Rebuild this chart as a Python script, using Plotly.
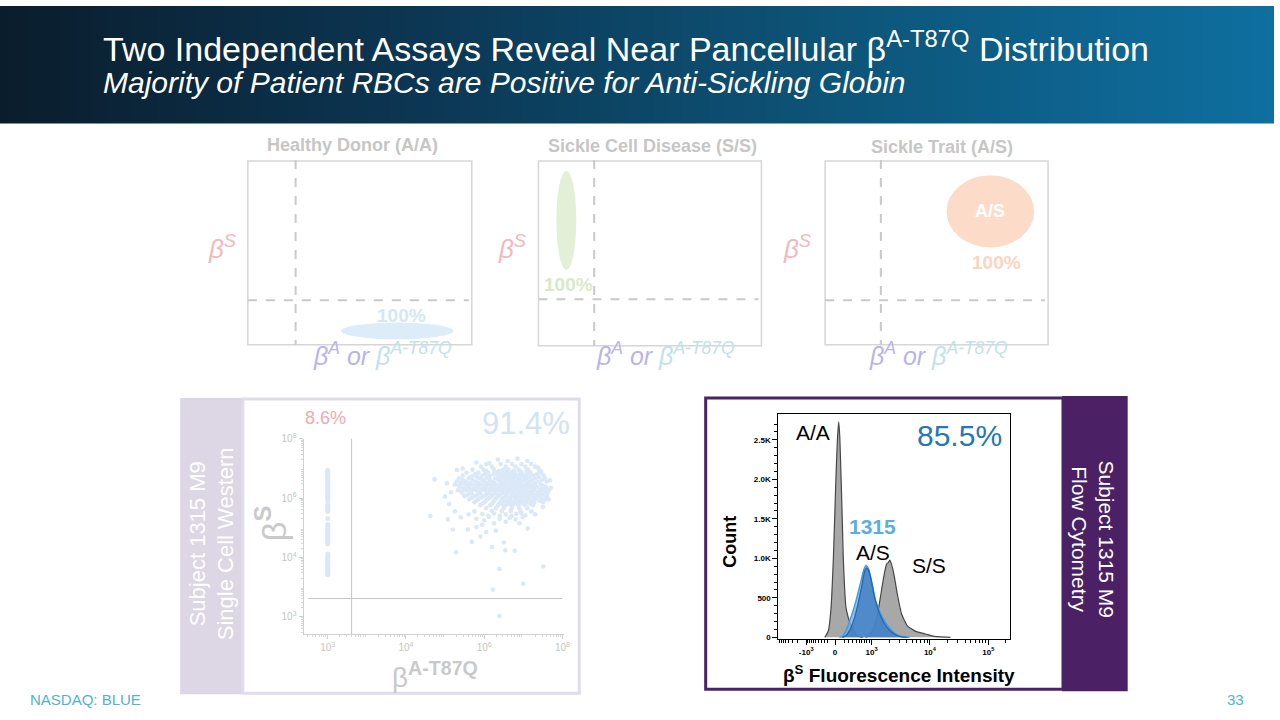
import math
import plotly.graph_objects as go

W, H = 1280, 720
def px_x(p): return p / W
def px_y(p): return 1 - p / H

FONT = "Liberation Sans, Arial, Helvetica, sans-serif"

# ------------------------------------------------------------------ data
HEADER_TITLE = "Two Independent Assays Reveal Near Pancellular β<sup>A-T87Q</sup> Distribution"
HEADER_SUBTITLE = "Majority of Patient RBCs are Positive for Anti-Sickling Globin"
FOOTER_LEFT = "NASDAQ: BLUE"
FOOTER_PAGE = "33"

PANEL_TITLES = ["Healthy Donor (A/A)", "Sickle Cell Disease (S/S)", "Sickle Trait (A/S)"]
PANEL_PERCENTS = ["100%", "100%", "100%"]
PANEL_BLOB_LABELS = ["", "", "A/S"]
PANEL_Y_LABEL = "β<sup>S</sup>"
PANEL_X_LABEL_A = "β<sup>A</sup> or "
PANEL_X_LABEL_T = "β<sup>A-T87Q</sup>"

SCW_SIDE_TEXT = "Subject 1315 M9<br>Single Cell Western"
SCW_PCT_NEG = "8.6%"
SCW_PCT_POS = "91.4%"
SCW_Y_TITLE = "β<sup><b>S</b></sup>"
SCW_X_TITLE = "β<sup><b>A-T87Q</b></sup>"
SCW_TICKVALS = [2, 4, 6, 8]
SCW_TICKTEXT = ["10<sup>3</sup>", "10<sup>4</sup>", "10<sup>6</sup>", "10<sup>8</sup>"]
SCW_GATE_LOGX = 2.61
SCW_GATE_LOGY = 2.61
# log10 values of the beta-A-T87Q-negative cells (all sit on the x floor)
SCW_NEG_LOGX = 2.0
SCW_NEG_LOGY = [6.94, 6.88, 6.82, 6.76, 6.70, 6.64, 6.58, 6.52, 6.46, 6.40, 6.34, 6.28,
                6.22, 6.16, 6.10, 6.04, 5.98, 5.92, 5.78, 5.72, 5.66, 5.60, 5.55, 5.31,
                5.11, 5.05, 4.99, 4.93, 4.87, 4.81, 4.75, 4.69, 4.63, 4.57, 4.51, 4.45,
                4.11, 4.05, 3.99, 3.93, 3.87, 3.81, 3.75, 3.69, 3.63, 3.57, 3.51, 3.45, 3.41]
# (log10 beta-A-T87Q, log10 beta-S) of positive cells
SCW_POS_POINTS = [
    (6.05, 7.15), (6.42, 7.15), (6.71, 7.15), (6.95, 7.15), (7.20, 7.15),
    (5.92, 7.06), (6.20, 7.06), (6.55, 7.06), (6.80, 7.06), (7.05, 7.06), (7.30, 7.06),
    (5.70, 6.96), (5.98, 6.96), (6.25, 6.96), (6.48, 6.96), (6.62, 6.96), (6.88, 6.96), (7.12, 6.96), (7.40, 6.96),
    (6.05, 6.91), (6.38, 6.91), (6.58, 6.91), (6.75, 6.91), (6.92, 6.91), (7.08, 6.91),
    (5.55, 6.86), (5.85, 6.86), (6.10, 6.86), (6.33, 6.86), (6.52, 6.86), (6.70, 6.86), (6.78, 6.86), (6.96, 6.86), (7.18, 6.86), (7.45, 6.86),
    (5.78, 6.81), (6.02, 6.81), (6.25, 6.81), (6.45, 6.81), (6.60, 6.81), (6.73, 6.81), (6.90, 6.81), (7.10, 6.81), (7.35, 6.81),
    (5.45, 6.76), (5.72, 6.76), (5.95, 6.76), (6.15, 6.76), (6.38, 6.76), (6.55, 6.76), (6.64, 6.76), (6.83, 6.76), (7.02, 6.76), (7.25, 6.76), (7.52, 6.76),
    (5.65, 6.71), (5.82, 6.71), (6.12, 6.71), (6.35, 6.71), (6.50, 6.71), (6.68, 6.71), (6.80, 6.71), (6.96, 6.71), (7.15, 6.71), (7.40, 6.71),
    (5.35, 6.66), (5.60, 6.66), (5.88, 6.66), (6.05, 6.66), (6.28, 6.66), (6.45, 6.66), (6.60, 6.66), (6.74, 6.66), (6.90, 6.66), (7.08, 6.66), (7.30, 6.66), (7.55, 6.66),
    (5.45, 6.61), (5.70, 6.61), (5.95, 6.61), (6.15, 6.61), (6.36, 6.61), (6.56, 6.61), (6.70, 6.61), (6.86, 6.61), (7.02, 6.61), (7.22, 6.61), (7.48, 6.61),
    (5.30, 6.56), (5.52, 6.56), (5.78, 6.56), (6.00, 6.56), (6.20, 6.56), (6.40, 6.56), (6.52, 6.56), (6.68, 6.56), (6.80, 6.56), (6.97, 6.56), (7.15, 6.56), (7.38, 6.56), (7.60, 6.56),
    (5.40, 6.51), (5.62, 6.51), (5.85, 6.51), (6.08, 6.51), (6.26, 6.51), (6.44, 6.51), (6.58, 6.51), (6.72, 6.51), (6.88, 6.51), (7.10, 6.51), (7.30, 6.51),
    (5.25, 6.46), (5.50, 6.46), (5.70, 6.46), (5.92, 6.46), (6.12, 6.46), (6.30, 6.46), (6.48, 6.46), (6.62, 6.46), (6.75, 6.46), (6.90, 6.46), (7.05, 6.46), (7.22, 6.46), (7.45, 6.46),
    (5.35, 6.41), (5.58, 6.41), (5.80, 6.41), (6.00, 6.41), (6.20, 6.41), (6.38, 6.41), (6.55, 6.41), (6.68, 6.41), (6.80, 6.41), (6.96, 6.41), (7.12, 6.41), (7.30, 6.41), (7.52, 6.41),
    (5.40, 6.36), (5.62, 6.36), (5.85, 6.36), (6.05, 6.36), (6.25, 6.36), (6.42, 6.36), (6.58, 6.36), (6.70, 6.36), (6.85, 6.36), (7.00, 6.36), (7.18, 6.36), (7.35, 6.36), (7.58, 6.36),
    (5.50, 6.31), (5.72, 6.31), (5.95, 6.31), (6.15, 6.31), (6.33, 6.31), (6.50, 6.31), (6.64, 6.31), (6.78, 6.31), (6.92, 6.31), (7.08, 6.31), (7.25, 6.31), (7.45, 6.31),
    (5.33, 6.26), (5.55, 6.26), (5.80, 6.26), (6.02, 6.26), (6.20, 6.26), (6.38, 6.26), (6.52, 6.26), (6.66, 6.26), (6.80, 6.26), (6.95, 6.26), (7.10, 6.26), (7.28, 6.26), (7.50, 6.26), (7.65, 6.26),
    (5.42, 6.21), (5.65, 6.21), (5.90, 6.21), (6.10, 6.21), (6.28, 6.21), (6.45, 6.21), (6.58, 6.21), (6.72, 6.21), (6.88, 6.21), (7.02, 6.21), (7.18, 6.21), (7.38, 6.21), (7.56, 6.21),
    (5.45, 6.16), (5.68, 6.16), (5.90, 6.16), (6.12, 6.16), (6.30, 6.16), (6.47, 6.16), (6.60, 6.16), (6.75, 6.16), (6.90, 6.16), (7.05, 6.16), (7.22, 6.16), (7.42, 6.16), (7.62, 6.16),
    (5.58, 6.11), (5.82, 6.11), (6.05, 6.11), (6.22, 6.11), (6.40, 6.11), (6.56, 6.11), (6.70, 6.11), (6.82, 6.11), (6.97, 6.11), (7.12, 6.11), (7.30, 6.11), (7.50, 6.11),
    (5.50, 6.06), (5.75, 6.06), (5.98, 6.06), (6.18, 6.06), (6.35, 6.06), (6.55, 6.06), (6.70, 6.06), (6.85, 6.06), (7.00, 6.06), (7.18, 6.06), (7.38, 6.06), (7.60, 6.06),
    (5.68, 6.01), (5.92, 6.01), (6.14, 6.01), (6.32, 6.01), (6.50, 6.01), (6.66, 6.01), (6.78, 6.01), (6.92, 6.01), (7.08, 6.01), (7.26, 6.01), (7.46, 6.01),
    (5.62, 5.96), (5.85, 5.96), (6.08, 5.96), (6.28, 5.96), (6.45, 5.96), (6.62, 5.96), (6.80, 5.96), (6.95, 5.96), (7.12, 5.96), (7.32, 5.96), (7.55, 5.96),
    (5.80, 5.91), (6.04, 5.91), (6.26, 5.91), (6.50, 5.91), (6.68, 5.91), (6.86, 5.91), (7.02, 5.91), (7.20, 5.91), (7.42, 5.91),
    (5.75, 5.86), (6.00, 5.86), (6.22, 5.86), (6.40, 5.86), (6.58, 5.86), (6.75, 5.86), (6.92, 5.86), (7.08, 5.86), (7.28, 5.86), (7.50, 5.86),
    (5.95, 5.81), (6.20, 5.81), (6.46, 5.81), (6.64, 5.81), (6.82, 5.81), (7.00, 5.81), (7.18, 5.81),
    (5.90, 5.76), (6.15, 5.76), (6.35, 5.76), (6.55, 5.76), (6.72, 5.76), (6.88, 5.76), (7.05, 5.76), (7.25, 5.76),
    (6.05, 5.66), (6.30, 5.66), (6.50, 5.66), (6.70, 5.66), (6.90, 5.66), (7.10, 5.66),
    (6.20, 5.56), (6.45, 5.56), (6.68, 5.56), (6.92, 5.56),
    (5.95, 5.46), (6.25, 5.48), (6.55, 5.45), (6.82, 5.47), (7.05, 5.42), (6.12, 5.36), (6.40, 5.40),
    (6.65, 5.33), (6.98, 5.36), (5.75, 5.55), (7.20, 5.55), (6.00, 5.25), (6.55, 5.20), (6.80, 5.28),
    (4.73, 6.63), (4.62, 5.39), (5.07, 5.28), (5.20, 4.94), (5.28, 4.17), (5.68, 4.52), (5.58, 4.94),
    (5.80, 5.02), (5.95, 5.10), (6.05, 4.85), (6.30, 4.90), (6.20, 4.35), (6.50, 4.50), (6.54, 4.24),
    (6.78, 4.22), (7.11, 4.97), (6.39, 3.61), (6.22, 2.91), (7.00, 3.11), (6.39, 2.02), (7.51, 3.69),
    (6.85, 7.33), (7.38, 7.02), (6.13, 7.17), (6.60, 7.25), (5.30, 6.95), (5.15, 6.20), (5.00, 6.05),
    (5.10, 5.80), (5.25, 5.55), (5.40, 5.35), (5.60, 5.45), (5.80, 5.30), (6.10, 5.40), (6.40, 5.30),
    (6.70, 5.40), (6.95, 5.50), (7.30, 5.45), (7.50, 5.70), (7.65, 5.95), (7.70, 6.35), (7.68, 6.60),
    (7.45, 6.90), (5.05, 6.50), (5.45, 7.00), (5.80, 7.20), (6.35, 7.30), (7.10, 7.25), (6.90, 5.15),
    (5.90, 4.70), (6.25, 5.15),
]

FLOW_SIDE_TEXT = "Subject 1315 M9<br>Flow Cytometry"
FLOW_PCT = "85.5%"
FLOW_X_TITLE = "<b>β<sup>S</sup> Fluorescence Intensity</b>"
FLOW_Y_TITLE = "<b>Count</b>"
# x axis is in biexponential display units
FLOW_X_TICKVALS = [1.88, 2.374, 3.0, 4.0, 5.0]
FLOW_X_TICKTEXT = ["-10<sup>3</sup>", "0", "10<sup>3</sup>", "10<sup>4</sup>", "10<sup>5</sup>"]
FLOW_Y_TICKVALS = [0, 500, 1000, 1500, 2000, 2500]
FLOW_Y_TICKTEXT = ["0", "500", "1.0K", "1.5K", "2.0K", "2.5K"]
AA_X = [2.20, 2.26, 2.306, 2.346, 2.37, 2.391, 2.415, 2.437, 2.455, 2.477, 2.50, 2.516, 2.54, 2.562, 2.59, 2.618, 2.675, 2.76, 2.85]
AA_Y = [0, 83, 375, 1000, 1550, 2041, 2500, 2729, 2550, 2041, 1450, 1000, 600, 375, 280, 208, 104, 20, 0]
SS_X = [2.90, 2.96, 3.03, 3.102, 3.159, 3.215, 3.26, 3.29, 3.312, 3.34, 3.385, 3.443, 3.516, 3.613, 3.755, 3.926, 4.07, 4.20, 4.35]
SS_Y = [0, 21, 104, 292, 542, 792, 930, 950, 979, 930, 792, 542, 292, 146, 75, 42, 12, 5, 0]
S1315_OUTER_X = [2.45, 2.505, 2.573, 2.647, 2.732, 2.818, 2.87, 2.903, 2.94, 2.988, 3.073, 3.187, 3.30, 3.414, 3.53, 3.65]
S1315_OUTER_Y = [0, 12, 104, 250, 458, 708, 860, 908, 880, 750, 458, 250, 125, 42, 8, 0]
S1315_INNER_X = [2.50, 2.56, 2.63, 2.70, 2.77, 2.84, 2.88, 2.915, 2.95, 2.99, 3.06, 3.16, 3.26, 3.37, 3.48, 3.60]
S1315_INNER_Y = [0, 20, 95, 230, 430, 680, 830, 880, 850, 740, 480, 260, 130, 50, 12, 0]
FLOW_LABELS = ["A/A", "1315", "A/S", "S/S"]

# ------------------------------------------------------------------ figure
fig = go.Figure()
shapes, annotations = [], []

def add_text(text, x, y, size, color, xanchor="center", yanchor="middle", angle=0):
    annotations.append(dict(text=text, x=px_x(x), y=px_y(y), xref="paper", yref="paper",
                            showarrow=False, xanchor=xanchor, yanchor=yanchor, textangle=angle,
                            font=dict(size=size, color=color, family=FONT)))

def rect(x0, y0, x1, y1, fill="rgba(0,0,0,0)", line=None, width=0, layer="below", kind="rect", dash=None):
    shapes.append(dict(type=kind, xref="paper", yref="paper", x0=px_x(x0), x1=px_x(x1),
                       y0=px_y(y1), y1=px_y(y0), fillcolor=fill, layer=layer,
                       line=dict(color=line or "rgba(0,0,0,0)", width=width, dash=dash)))

def line(x0, y0, x1, y1, color, width=1.5, dash=None):
    shapes.append(dict(type="line", xref="paper", yref="paper", x0=px_x(x0), x1=px_x(x1),
                       y0=px_y(y0), y1=px_y(y1), layer="above",
                       line=dict(color=color, width=width, dash=dash)))

# ---- header gradient
HEADER_SCALE = [[0.0, "#0a1d2c"], [0.3, "#0c3450"], [0.65, "#0d5478"], [1.0, "#0e6fa0"]]
fig.add_trace(go.Heatmap(z=[[0, 1], [0, 1]], x=[0, 1], y=[0, 1], colorscale=HEADER_SCALE,
                         zsmooth="best", showscale=False, hoverinfo="skip",
                         xaxis="x3", yaxis="y3"))
add_text(HEADER_TITLE, 101, 41, 34, "white", xanchor="left")
add_text("<i>" + HEADER_SUBTITLE + "</i>", 101, 77, 30, "white", xanchor="left")

# ---- top schematic panels
PANEL_GEOM = [
    dict(box=(249, 157, 474, 343), vx=297, hy=298, ell=(399, 329, 113, 17), ell_col="#dcedf9",
         pct=(403, 313), pct_col="#d3e8f6", title=(354, 141), ylab=(223, 245), xlab=(384, 352)),
    dict(box=(541, 157, 765, 344), vx=597, hy=297, ell=(569, 217, 20, 100), ell_col="#e3efd7",
         pct=(571, 282), pct_col="#d9e9c8", title=(656, 142), ylab=(514, 245), xlab=(669, 352)),
    dict(box=(829, 157, 1053, 343), vx=885, hy=298, ell=(995, 208, 88, 73), ell_col="#fcdcc9",
         pct=(1001, 260), pct_col="#fbd5bd", title=(946, 143), ylab=(801, 245), xlab=(943, 352)),
]
for i, g in enumerate(PANEL_GEOM):
    x0, y0, x1, y1 = g["box"]
    rect(x0, y0, x1, y1, fill="white", line="#d6d6d6", width=1.5)
    line(g["vx"], y0 - 1, g["vx"], y1, "#c9c9c9", 2, "dash")
    line(x0, g["hy"], x1 - 3, g["hy"], "#c9c9c9", 2, "dash")
    cx, cy, ew, eh = g["ell"]
    rect(cx - ew / 2, cy - eh / 2, cx + ew / 2, cy + eh / 2, fill=g["ell_col"], kind="circle", layer="below")
    if PANEL_BLOB_LABELS[i]:
        add_text("<b>" + PANEL_BLOB_LABELS[i] + "</b>", cx, cy, 18, "white")
    add_text("<b>" + PANEL_PERCENTS[i] + "</b>", g["pct"][0], g["pct"][1], 19, g["pct_col"])
    add_text("<b>" + PANEL_TITLES[i] + "</b>", g["title"][0], g["title"][1], 18, "#c6c6c6")
    add_text("<i>" + PANEL_Y_LABEL + "</i>", g["ylab"][0], g["ylab"][1], 26, "#f5b7bc")
    add_text("<i><span style='color:#bab3ec'>" + PANEL_X_LABEL_A + "</span>"
             "<span style='color:#c3e1e8'>" + PANEL_X_LABEL_T + "</span></i>",
             g["xlab"][0], g["xlab"][1], 25, "#bab3ec")

# ---- single cell western panel
rect(181, 397, 244, 697, fill="#dcd6e5")
rect(244, 398, 582, 696, fill="white", line="#e1dce9", width=3)
add_text(SCW_SIDE_TEXT, 213, 545, 22, "white", angle=-90)
add_text(SCW_PCT_NEG, 327, 417, 18, "#f2a9ae")
add_text(SCW_PCT_POS, 528, 423, 31, "#d3e3f2")
add_text(SCW_Y_TITLE, 272, 524, 34, "#c9c9c9", angle=-90)
add_text(SCW_X_TITLE, 437, 677, 28, "#c9c9c9")

fig.add_trace(go.Scatter(x=[SCW_NEG_LOGX] * len(SCW_NEG_LOGY), y=SCW_NEG_LOGY, mode="markers",
                         marker=dict(size=5, color="#d9e8f8"), hoverinfo="skip", xaxis="x", yaxis="y"))
fig.add_trace(go.Scatter(x=[p[0] for p in SCW_POS_POINTS], y=[p[1] for p in SCW_POS_POINTS], mode="markers",
                         marker=dict(size=4.6, color="#dbe8f8"), hoverinfo="skip", xaxis="x", yaxis="y"))
SCW_XR = [1.382, 8.048]
SCW_YR = [1.41, 8.01]
shapes.append(dict(type="line", xref="x", yref="y", x0=SCW_GATE_LOGX, x1=SCW_GATE_LOGX, y0=SCW_YR[0], y1=SCW_YR[1],
                   line=dict(color="#c4c4c4", width=1), layer="above"))
shapes.append(dict(type="line", xref="x", yref="y", x0=1.5, x1=8.0, y0=SCW_GATE_LOGY, y1=SCW_GATE_LOGY,
                   line=dict(color="#c4c4c4", width=1), layer="above"))

log_minor = [n + math.log10(k) for n in range(1, 9) for k in range(2, 10)]

def scw_axis(domain, rng):
    return dict(domain=domain, range=rng, showline=True, linecolor="#d0d0d0", linewidth=1,
                ticks="outside", ticklen=4, tickcolor="#d0d0d0", tickmode="array",
                tickvals=SCW_TICKVALS, ticktext=SCW_TICKTEXT,
                tickfont=dict(size=10, color="#c4c4c4", family=FONT),
                minor=dict(tickmode="array", tickvals=[v for v in log_minor if rng[0] < v < rng[1]],
                           ticks="outside", ticklen=2, tickcolor="#d6d6d6"),
                showgrid=False, zeroline=False, fixedrange=True)

# ---- flow cytometry panel
rect(1067, 395, 1133, 694, fill="#4b2064")
rect(709, 397, 1068, 692, fill="white", line="#4b2265", width=3)
add_text(FLOW_SIDE_TEXT, 1098, 540, 21, "white", angle=90)

fig.add_trace(go.Scatter(x=AA_X, y=AA_Y, mode="lines", line=dict(color="#474747", width=1.2, shape="spline", smoothing=0.5),
                         fill="tozeroy", fillcolor="#a8a8a8", hoverinfo="skip", xaxis="x2", yaxis="y2"))
fig.add_trace(go.Scatter(x=SS_X, y=SS_Y, mode="lines", line=dict(color="#474747", width=1.2, shape="spline", smoothing=0.5),
                         fill="tozeroy", fillcolor="#a8a8a8", hoverinfo="skip", xaxis="x2", yaxis="y2"))
fig.add_trace(go.Scatter(x=S1315_OUTER_X, y=S1315_OUTER_Y, mode="lines",
                         line=dict(color="#3e9de3", width=1.5, shape="spline", smoothing=0.6),
                         fill="tozeroy", fillcolor="rgba(110,176,236,0.75)", hoverinfo="skip", xaxis="x2", yaxis="y2"))
fig.add_trace(go.Scatter(x=S1315_INNER_X, y=S1315_INNER_Y, mode="lines",
                         line=dict(color="#2a66ad", width=1.3, shape="spline", smoothing=0.6),
                         fill="tozeroy", fillcolor="rgba(62,122,192,0.78)", hoverinfo="skip", xaxis="x2", yaxis="y2"))

add_text(FLOW_LABELS[0], 817, 432, 21, "black")
add_text(FLOW_PCT, 964, 435, 30, "#2577b6")
add_text("<b>" + FLOW_LABELS[1] + "</b>", 877, 527, 21, "#5aaee2")
add_text(FLOW_LABELS[2], 877, 553, 21, "black")
add_text(FLOW_LABELS[3], 933, 567, 21, "black")
add_text(FLOW_Y_TITLE, 734, 543, 18, "black", angle=-90)
add_text(FLOW_X_TITLE, 903, 676, 19, "black")

FLOW_XR = [1.403, 5.376]
FLOW_YR = [-21, 2829]
flow_minor_x = ([1.88 - 0.5 * math.log10(k) for k in range(2, 10)]
                + [2.374 - 0.494 * (k / 10) ** 0.6 for k in range(1, 10)]
                + [2.374 + 0.626 * (k / 10) ** 0.6 for k in range(1, 10)]
                + [n + math.log10(k) for n in (3, 4, 5) for k in range(2, 10)])
flow_minor_x = [v for v in flow_minor_x if FLOW_XR[0] < v < FLOW_XR[1]]
flow_minor_y = [v for v in range(100, 2800, 100) if v % 500]

# ---- footer
add_text(FOOTER_LEFT, 28, 702, 15, "#4fb3d6", xanchor="left")
add_text(FOOTER_PAGE, 1252, 702, 15, "#4fb3d6", xanchor="right")

fig.update_layout(
    width=W, height=H, margin=dict(l=0, r=0, t=0, b=0),
    paper_bgcolor="white", plot_bgcolor="rgba(0,0,0,0)", showlegend=False,
    font=dict(family=FONT),
    xaxis=dict(anchor="y", **scw_axis([px_x(305), px_x(567)], SCW_XR)),
    yaxis=dict(anchor="x", **scw_axis([px_y(636), px_y(438)], SCW_YR)),
    xaxis2=dict(domain=[px_x(782), px_x(1015)], range=FLOW_XR, anchor="y2",
                showline=True, mirror=True, linecolor="black", linewidth=1,
                ticks="outside", ticklen=5, tickwidth=1.3, tickcolor="black", tickmode="array",
                tickvals=FLOW_X_TICKVALS, ticktext=FLOW_X_TICKTEXT,
                tickfont=dict(size=8, color="black", family=FONT, weight="bold"),
                minor=dict(tickmode="array", tickvals=flow_minor_x, ticks="outside", ticklen=3, tickcolor="black"),
                showgrid=False, zeroline=False, fixedrange=True),
    yaxis2=dict(domain=[px_y(641), px_y(413)], range=FLOW_YR, anchor="x2",
                showline=True, mirror=True, linecolor="black", linewidth=1,
                ticks="outside", ticklen=5, tickwidth=1.3, tickcolor="black", tickmode="array",
                tickvals=FLOW_Y_TICKVALS, ticktext=FLOW_Y_TICKTEXT,
                tickfont=dict(size=8, color="black", family=FONT, weight="bold"),
                minor=dict(tickmode="array", tickvals=flow_minor_y, ticks="outside", ticklen=3, tickcolor="black"),
                showgrid=False, zeroline=False, fixedrange=True),
    xaxis3=dict(domain=[0, 1], range=[0, 1], visible=False, anchor="y3", fixedrange=True),
    yaxis3=dict(domain=[px_y(119), 1], range=[0, 1], visible=False, anchor="x3", fixedrange=True),
    shapes=shapes, annotations=annotations,
)

fig.write_html("out.html")
